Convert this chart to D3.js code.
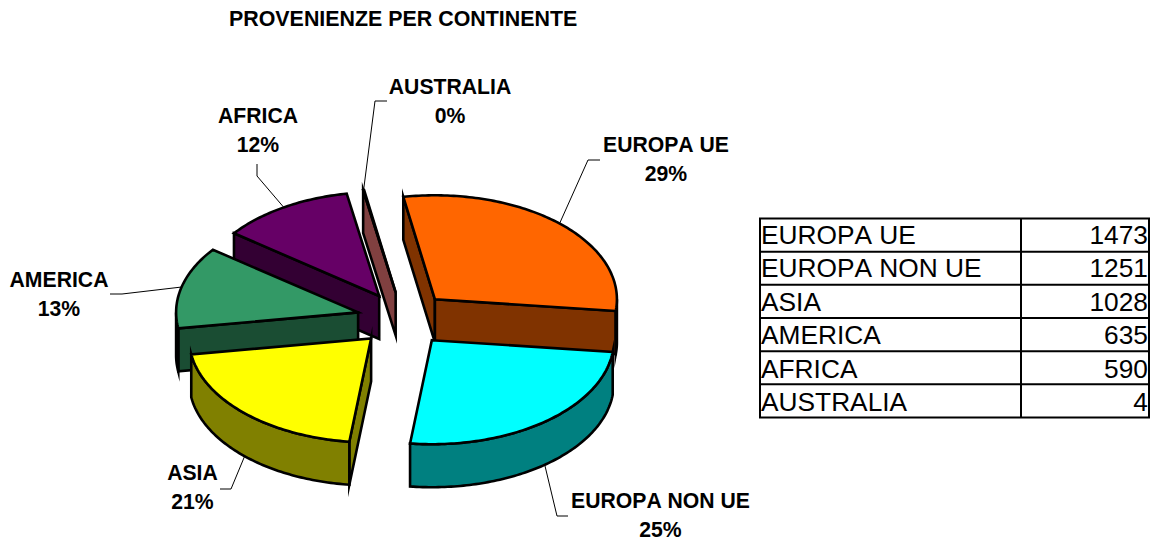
<!DOCTYPE html>
<html>
<head>
<meta charset="utf-8">
<script src="https://cdn.jsdelivr.net/npm/d3@7"></script>
<style>
    html, body { margin: 0; padding: 0; background: #fff; }
    svg { display: block; }
    text { font-family: "Liberation Sans", Arial, sans-serif; fill: #000; font-kerning: none; }
</style>
</head>
<body>
<svg id="chart" width="1161" height="539"></svg>
<script>
// values as they appear in the table of the reference
const categories = ["EUROPA UE", "EUROPA NON UE", "ASIA", "AMERICA", "AFRICA", "AUSTRALIA"];
const arrivals = [1473, 1251, 1028, 635, 590, 4];
const percent_labels = ["29%", "25%", "21%", "13%", "12%", "0%"];

const top_colours = ["#ff6600", "#00ffff", "#ffff00", "#339966", "#660066", "#ff8080"];
const wall_colours = ["#803300", "#008080", "#808000", "#1a4d33", "#330033", "#804040"];

// where each label is centred and where its leader bends
const label_centres = [[666, 145], [660.5, 501], [192.5, 473], [59, 280], [258, 116], [450, 87]];
const leader_bends = [[[588, 160], [600, 160]], [[557, 516], [568, 516]], [[231, 489], [220, 489]],
    [[122, 294], [110, 294]], [[257, 176], [257, 164]], [[375, 101], [387, 101]]];

// painter's order, back to front
const draw_order = [0, 5, 4, 3, 2, 1];

const title = "PROVENIENZE PER CONTINENTE";

const centre_x = 404, centre_y = 319;
const radius_x = 182, radius_y = 104;
const depth = 43;
const explode = 0.26;
const rad = Math.PI / 180;

const svg = d3.select("#chart");

const pie = d3.pie()
    .sort(null)
    .startAngle(-10 * rad)
    .endAngle(350 * rad);

const slices = pie(arrivals);

const line = d3.line();

function apexOf(s){
    let mid = (s.startAngle + s.endAngle) / 2;
    // slices on the right sit a bit closer than the left ones
    let nudge = Math.sin(mid) > 0 ? -1.5 : 0;
    return [
        centre_x + nudge + explode * radius_x * Math.sin(mid),
        centre_y - explode * radius_y * Math.cos(mid)
    ];
}

function rimPoint(apex, a, dy = 0){
    return [apex[0] + radius_x * Math.sin(a), apex[1] - radius_y * Math.cos(a) + dy];
}

function rimPoints(apex, a0, a1, dy = 0){
    let n = Math.max(1, Math.ceil((a1 - a0) / rad));
    return d3.range(n + 1).map(i => rimPoint(apex, a0 + (a1 - a0) * i / n, dy));
}

function face(g, points, fill){
    g.append("path")
        .attr("d", line(points) + "Z")
        .attr("fill", fill)
        .attr("stroke", "#000")
        .attr("stroke-width", 2.6)
        .attr("stroke-linejoin", "miter")
        .attr("stroke-miterlimit", 12);
}

function cutFace(g, apex, a, fill){
    face(g, [
        apex,
        rimPoint(apex, a),
        rimPoint(apex, a, depth),
        [apex[0], apex[1] + depth]
    ], fill);
}

// leaders start at the middle of the slice: top rim at the back, bottom rim at the front
function leaderStart(s){
    let mid = (s.startAngle + s.endAngle) / 2;
    return rimPoint(apexOf(s), mid, Math.cos(mid) < 0 ? depth : 0);
}

svg.append("g")
    .selectAll("path")
    .data(slices)
    .join("path")
    .attr("d", (s, i) => line([leaderStart(s)].concat(leader_bends[i])))
    .attr("fill", "none")
    .attr("stroke", "#000")
    .attr("stroke-width", 1);

const pie_g = svg.append("g").attr("class", "pie");

draw_order.forEach(i => {
    let s = slices[i];
    let apex = apexOf(s);
    let g = pie_g.append("g");

    if (Math.sin(s.startAngle) < 0) cutFace(g, apex, s.startAngle, wall_colours[i]);
    if (Math.sin(s.endAngle) > 0) cutFace(g, apex, s.endAngle, wall_colours[i]);

    let a0 = Math.max(s.startAngle, 90 * rad);
    let a1 = Math.min(s.endAngle, 270 * rad);
    if (a1 > a0) {
        face(g, rimPoints(apex, a0, a1).concat(rimPoints(apex, a0, a1, depth).reverse()), wall_colours[i]);
    }

    face(g, [apex].concat(rimPoints(apex, s.startAngle, s.endAngle)), top_colours[i]);
});

const labels = svg.append("g")
    .selectAll("text")
    .data(categories)
    .join("text")
    .attr("text-anchor", "middle")
    .attr("font-size", 21.2)
    .attr("font-weight", "bold");

labels.append("tspan")
    .attr("x", (d, i) => label_centres[i][0])
    .attr("y", (d, i) => label_centres[i][1] + 7)
    .text(d => d);

labels.append("tspan")
    .attr("x", (d, i) => label_centres[i][0])
    .attr("y", (d, i) => label_centres[i][1] + 36)
    .text((d, i) => percent_labels[i]);

svg.append("text")
    .attr("x", 229)
    .attr("y", 26)
    .attr("font-size", 21.4)
    .attr("font-weight", "bold")
    .text(title);

// table on the right
const table_x = d3.scaleOrdinal().domain(["left", "mid", "right"]).range([760, 1021, 1149]);
const row_y = d3.scaleLinear().domain([0, categories.length]).range([218.5, 417.5]);
const baseline_y = d3.scaleLinear().domain([0, categories.length - 1]).range([243.5, 411]);

const table = svg.append("g").attr("class", "table");

table.selectAll("line.row")
    .data(d3.range(categories.length + 1))
    .join("line")
    .attr("class", "row")
    .attr("x1", table_x("left") - 1)
    .attr("x2", table_x("right") + 1)
    .attr("y1", d => row_y(d))
    .attr("y2", d => row_y(d));

table.selectAll("line.col")
    .data(["left", "mid", "right"])
    .join("line")
    .attr("class", "col")
    .attr("x1", d => table_x(d))
    .attr("x2", d => table_x(d))
    .attr("y1", row_y(0))
    .attr("y2", row_y(categories.length));

table.selectAll("line")
    .attr("stroke", "#000")
    .attr("stroke-width", 2);

table.selectAll("text.name")
    .data(categories)
    .join("text")
    .attr("class", "name")
    .attr("x", table_x("left") + 1)
    .attr("y", (d, i) => baseline_y(i))
    .attr("font-size", 26.3)
    .text(d => d);

table.selectAll("text.value")
    .data(arrivals)
    .join("text")
    .attr("class", "value")
    .attr("x", table_x("right") - 1)
    .attr("y", (d, i) => baseline_y(i))
    .attr("font-size", 26.3)
    .attr("text-anchor", "end")
    .text(d => d);
</script>
</body>
</html>
